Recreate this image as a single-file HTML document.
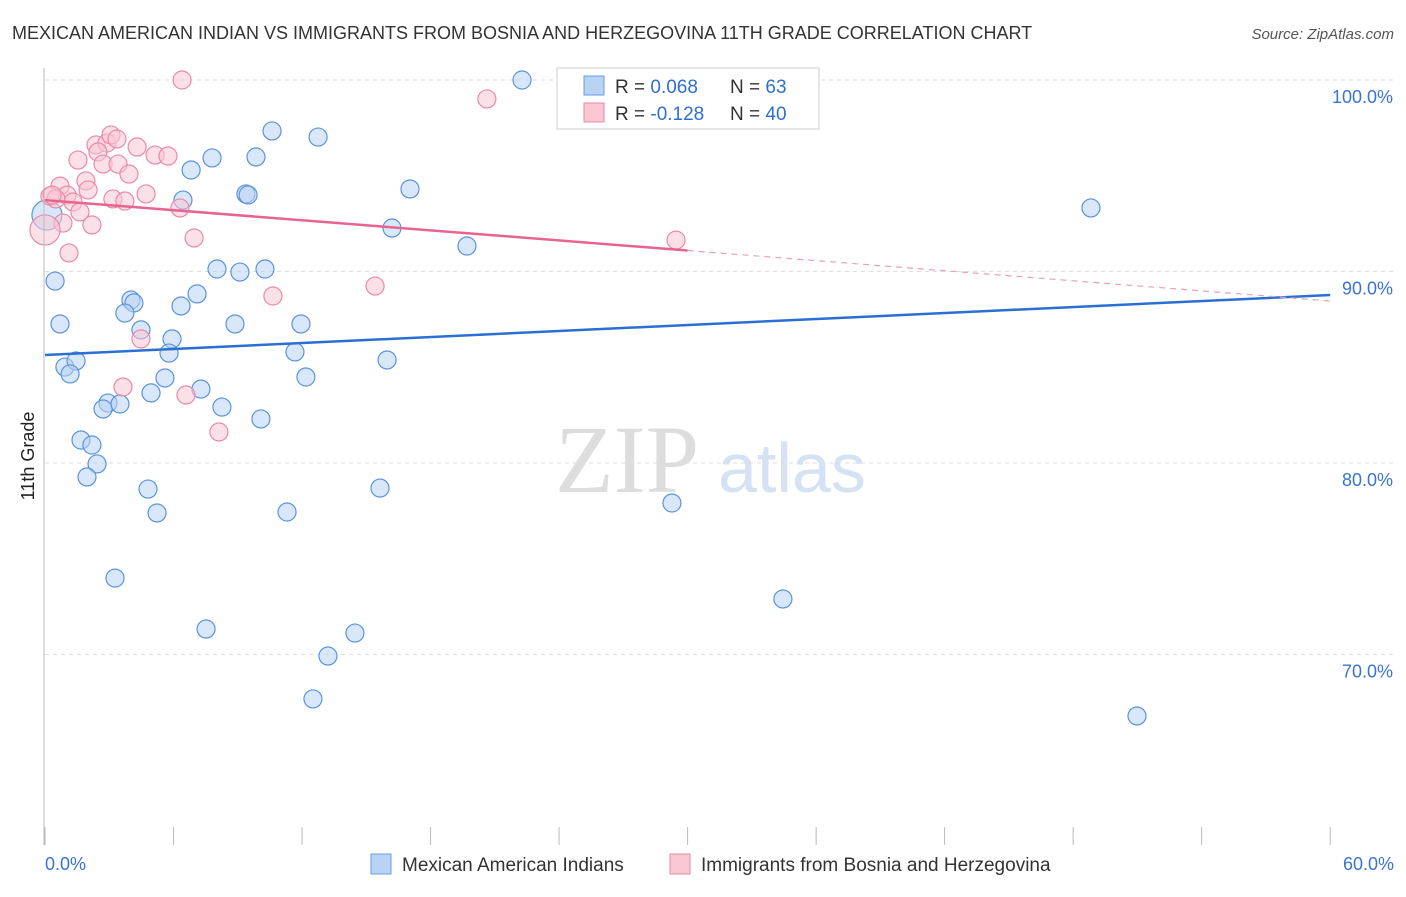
<!DOCTYPE html>
<html><head><meta charset="utf-8"><style>
body{margin:0;background:#fff;font-family:"Liberation Sans",sans-serif}
</style></head><body>
<svg id="c" width="1406" height="892" xmlns="http://www.w3.org/2000/svg" style="font-family:'Liberation Sans',sans-serif">
<text x="12" y="39" font-size="18" fill="#333">MEXICAN AMERICAN INDIAN VS IMMIGRANTS FROM BOSNIA AND HERZEGOVINA 11TH GRADE CORRELATION CHART</text>
<text x="1394" y="39" font-size="15" fill="#555" font-style="italic" text-anchor="end">Source: ZipAtlas.com</text>
<text x="0" y="0" transform="translate(34,456) rotate(-90)" font-size="18" fill="#222" text-anchor="middle">11th Grade</text>
<text x="555" y="492" font-size="96" fill="#ddd" font-family="Liberation Serif">ZIP</text>
<text x="718" y="492" font-size="70" fill="#d4e2f4">atlas</text>
<g id="grid"></g><g id="ticks"></g><g id="pts"></g><g id="lines"></g>
<line x1="44" y1="68" x2="44" y2="845" stroke="#bbb"/>
<g>
<rect x="557" y="68" width="262" height="61" fill="#fff" stroke="#ccc"/>
<rect x="584" y="76" width="20" height="19" fill="#b8d3f4" stroke="#6a9de0"/>
<rect x="584" y="103" width="20" height="19" fill="#f9c6d4" stroke="#e88aa6"/>
<text x="615" y="93" font-size="19" fill="#333">R = <tspan fill="#2f6fd1">0.068</tspan><tspan x="730">N = </tspan><tspan fill="#2f6fd1">63</tspan></text>
<text x="615" y="120" font-size="19" fill="#333">R = <tspan fill="#2f6fd1">-0.128</tspan><tspan x="730">N = </tspan><tspan fill="#2f6fd1">40</tspan></text>
</g>
<text x="45" y="870" font-size="18" fill="#3a74cf">0.0%</text>
<text x="1394" y="870" font-size="18" fill="#3a74cf" text-anchor="end">60.0%</text>
<g>
<rect x="371" y="854" width="20" height="20" fill="#b8d3f4" stroke="#6a9de0"/>
<text x="402" y="871" font-size="19" fill="#333">Mexican American Indians</text>
<rect x="670" y="854" width="20" height="20" fill="#f9c6d4" stroke="#e88aa6"/>
<text x="701" y="871" font-size="19" fill="#333">Immigrants from Bosnia and Herzegovina</text>
</g>
</svg>
<script>
const yTicks=[100,90,80,70];
const xTickVals=[0,6,12,18,24,30,36,42,48,54,60];
const blueX=[22.27,26.19,28.57,31.51,10.6,12.75,7.8,9.85,6.82,6.44,9.38,9.48,17.04,16.2,19.7,48.83,0.47,8.03,9.1,10.27,4.01,4.15,3.73,7.1,6.35,0.7,4.48,5.93,8.87,11.95,5.79,11.67,15.97,0.93,1.45,1.17,5.6,12.18,4.95,7.28,2.94,2.71,3.5,8.26,10.08,1.68,2.19,2.43,1.96,4.81,15.64,5.23,11.3,29.27,3.27,34.45,7.52,14.47,13.21,12.51,50.98,0.09];
const blueY=[100,100,100,100,97.34,97.02,95.93,95.98,95.3,93.73,94.05,94,94.31,92.27,91.33,93.32,89.5,90.13,89.97,90.13,88.51,88.36,87.83,88.83,88.2,87.26,86.95,86.48,87.26,87.26,85.74,85.8,85.38,85.01,85.33,84.65,84.44,84.49,83.66,83.86,83.13,82.82,83.08,82.92,82.3,81.2,80.94,79.95,79.27,78.64,78.69,77.39,77.44,77.91,73.99,72.9,71.33,71.12,69.92,67.68,66.79,92.95];
const pinkX=[6.4,20.63,2.38,2.89,3.08,3.36,2.47,1.54,2.71,3.41,4.3,5.14,5.74,3.92,1.91,0.7,2.01,0.23,1.03,1.31,4.72,3.17,3.73,0.51,1.63,2.19,0.84,6.3,6.96,1.12,0,10.64,15.41,29.46,4.48,3.64,6.58,8.12,0.33];
const pinkY=[100,99.01,96.61,96.71,97.13,96.92,96.24,95.82,95.61,95.61,96.5,96.08,96.03,95.09,94.73,94.46,94.26,93.94,93.99,93.63,94.05,93.79,93.68,93.79,93.11,92.43,92.53,93.32,91.75,90.97,92.17,88.72,89.24,91.64,86.48,83.97,83.55,81.62,93.99];
const blueTrend=[85.64,88.77];
const pinkTrend=[93.73,88.46];
const pinkSolidEnd=30;
const X=v=>45+v*21.42, Y=v=>80+(100-v)*19.15;
const NS="http://www.w3.org/2000/svg";
function mk(t,a,p){const e=document.createElementNS(NS,t);for(const k in a)e.setAttribute(k,a[k]);document.getElementById(p).appendChild(e);return e;}
yTicks.forEach(v=>{
 const l=mk('line',{x1:45,x2:1394,y1:Y(v),y2:Y(v),stroke:'#ddd','stroke-dasharray':'4,4'},'grid');
 
 
 const t=mk('text',{x:1393,y:Y(v)+23,'font-size':18,fill:'#3a74cf','text-anchor':'end'},'grid');
 t.textContent=v.toFixed(1)+'%';
 
 
});
xTickVals.forEach(v=>{
 const l=mk('line',{x1:X(v),x2:X(v),y1:827,y2:845,stroke:'#bbb'},'ticks');
 
 
});
function pts(xs,ys,fill,stroke,name){xs.forEach((x,i)=>{
 const big=(x<0.2);
 const c=mk('circle',{cx:X(x),cy:Y(ys[i]),r:big?15:9,fill:fill,'fill-opacity':0.55,stroke:stroke,'stroke-width':1.2},'pts');
 
 
});}
pts(blueX,blueY,'#b8d3f4','#5b93dd','blue-point');
pts(pinkX,pinkY,'#f9c6d4','#ea8aa8','pink-point');
const bl=mk('line',{x1:X(0),y1:Y(blueTrend[0]),x2:X(60),y2:Y(blueTrend[1]),stroke:'#2a6fd4','stroke-width':2.5},'lines');


const py=v=>pinkTrend[0]+(pinkTrend[1]-pinkTrend[0])*v/60;
const pl=mk('line',{x1:X(0),y1:Y(pinkTrend[0]),x2:X(pinkSolidEnd),y2:Y(py(pinkSolidEnd)),stroke:'#e8648e','stroke-width':2.5},'lines');


const pd=mk('line',{x1:X(pinkSolidEnd),y1:Y(py(pinkSolidEnd)),x2:X(60),y2:Y(pinkTrend[1]),stroke:'#e8a0b6','stroke-width':1.2,'stroke-dasharray':'6,5'},'lines');


</script>
</body></html>
